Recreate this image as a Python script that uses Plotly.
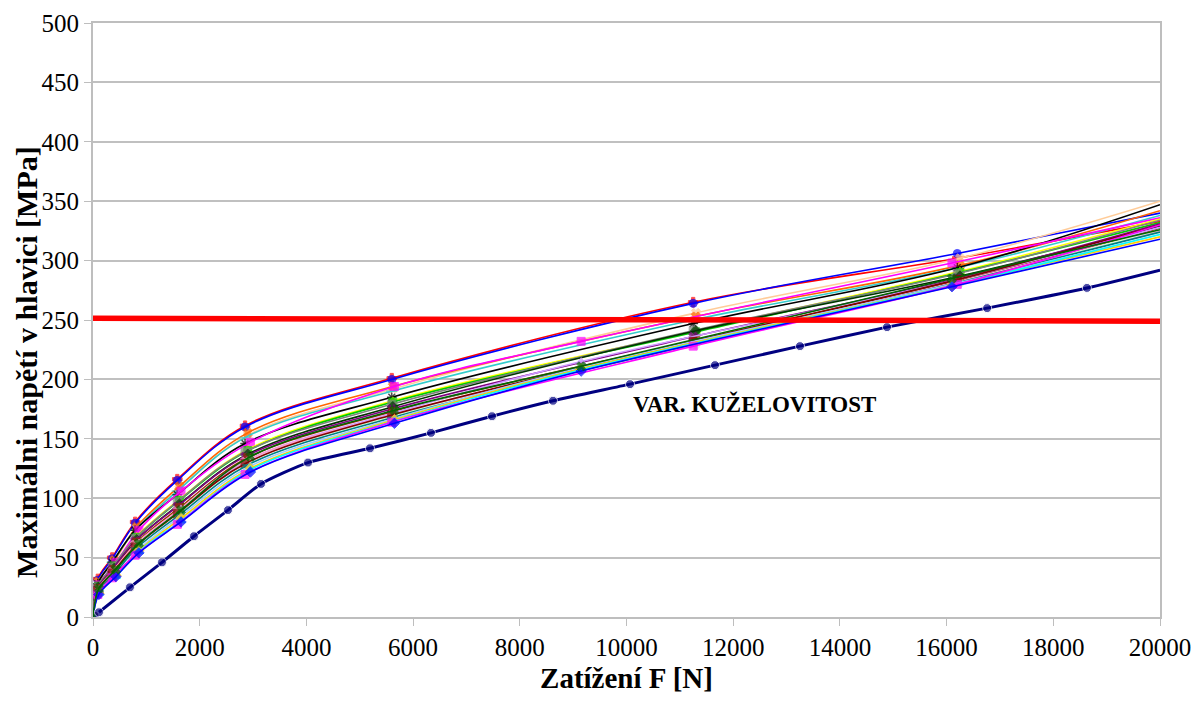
import plotly.graph_objects as go

# ---------------- data ----------------
X_TICKS = [0, 2000, 4000, 6000, 8000, 10000, 12000, 14000, 16000, 18000, 20000]
Y_TICKS = [0, 50, 100, 150, 200, 250, 300, 350, 400, 450, 500]

# load steps (N) used by the different variants
LOADS_A = [0, 90, 360, 790, 1580, 2850, 5600, 11250, 16200, 20000]
LOADS_B = [0, 110, 430, 860, 1650, 2950, 5650, 9150, 16100, 20000]
LOADS_C = [0, 100, 400, 820, 1620, 2900, 5620, 11300, 16250, 20000]

# max stress in the head (MPa) for each variant
S01 = [0, 32, 50, 80, 116, 161, 201, 265, 302, 333]
S02 = [0, 31, 49, 79, 115, 160, 200, 264, 306, 340]
S03 = [0, 29, 47, 75, 108, 153, 192, 256, 302, 350]
S04 = [0, 30, 48, 76, 110, 155, 194, 253, 296, 342]
S05 = [0, 28, 46, 73, 106, 151, 190, 250, 294, 338]
S06 = [0, 28, 46, 73, 103, 146, 185, 247, 294, 347]
S07 = [0, 27, 46, 73, 106, 147, 194, 232, 298, 336]
S08 = [0, 26, 43, 68, 99, 141, 182, 241, 291, 335]
S09 = [0, 26, 43, 67, 98, 140, 181, 240, 290, 332]
S10 = [0, 25, 42, 66, 97, 139, 179, 241, 289, 334]
S11 = [0, 25, 41, 65, 95, 137, 177, 241, 287, 329]
S12 = [0, 24, 40, 64, 93, 135, 175, 236, 285, 331]
S13 = [0, 24, 40, 63, 92, 134, 173, 233, 284, 327]
S14 = [0, 23, 39, 62, 91, 133, 172, 215, 283, 328]
S15 = [0, 23, 38, 61, 89, 131, 170, 230, 282, 325]
S16 = [0, 22, 37, 60, 88, 130, 169, 229, 281, 326]
S17 = [0, 22, 37, 59, 87, 129, 170, 232, 284, 330]
S18 = [0, 21, 36, 58, 86, 128, 168, 230, 282, 324]
S19 = [0, 21, 35, 57, 85, 127, 167, 210, 280, 322]
S20 = [0, 20, 35, 56, 83, 125, 166, 209, 279, 320]
S21 = [0, 20, 34, 55, 81, 124, 165, 208, 279, 322]
S22 = [0, 19, 33, 52, 78, 120, 164, 228, 280, 330]
S23 = [0, 19, 34, 54, 80, 122, 163, 207, 278, 318]
S24 = [0, 24, 40, 62, 90, 135, 174, 211, 285, 326]

SERIES = [
    (LOADS_A, S01), (LOADS_A, S02), (LOADS_C, S03), (LOADS_C, S04),
    (LOADS_A, S05), (LOADS_A, S06), (LOADS_B, S07), (LOADS_C, S08),
    (LOADS_C, S09), (LOADS_A, S10), (LOADS_C, S11), (LOADS_A, S12),
    (LOADS_C, S13), (LOADS_B, S14), (LOADS_A, S15), (LOADS_C, S16),
    (LOADS_A, S17), (LOADS_C, S18), (LOADS_B, S19), (LOADS_B, S20),
    (LOADS_B, S21), (LOADS_A, S22), (LOADS_B, S23), (LOADS_B, S24),
]

# variant "KUŽELOVITOST"
KUZ_F = [112, 693, 1293, 1893, 2530, 3149, 4030, 5192, 6335, 7479, 8622,
         10066, 11659, 13252, 14883, 16760, 18630, 20000]
KUZ_S = [4, 25, 46, 68, 90, 112, 130, 142, 155, 169, 182,
         196, 212, 228, 244, 260, 277, 292]

# allowable stress limit line
LIMIT_F = [0, 20000]
LIMIT_S = [251.5, 249]

ANNOT_TEXT = "VAR. KUŽELOVITOST"
ANNOT_POS = (12400, 179)

X_TITLE = "Zatížení F [N]"
Y_TITLE = "Maximálni napětí v hlavici [MPa]"

# ---------------- styles ----------------
COLORS = ["#FF0000", "#0000FF", "#FFCC99", "#FF6600", "#33CCCC", "#000000",
          "#FF00FF", "#FFFF00", "#00CC00", "#808080", "#003300", "#800080",
          "#993300", "#CC99FF", "#FF99CC", "#CCFFCC", "#800000", "#008080",
          "#99CCFF", "#FFCC00", "#00FFFF", "#FF00FF", "#0000FF", "#006600"]
SYMBOLS = ["cross", "circle", "x", "x", "line-ew-open", "asterisk-open",
           "square", "triangle-up", "square", "square", "diamond", "x",
           "square", "triangle-up", "x", "circle", "square", "line-ew-open",
           "triangle-up", "diamond", "triangle-up", "square", "diamond", "x"]

FONT = "Liberation Serif"

fig = go.Figure()

for (xs, ys), col, sym in zip(SERIES, COLORS, SYMBOLS):
    sizes = [8] * (len(xs) - 1) + [0]
    lw = 1.5 if sym.endswith("open") else 1
    fig.add_trace(go.Scatter(
        x=xs, y=ys, mode="lines+markers",
        line=dict(color=col, width=1.6, shape="spline", smoothing=1.0),
        marker=dict(symbol=sym, size=sizes, color=col,
                    line=dict(color=col, width=lw)),
        showlegend=False, hoverinfo="x+y"))

fig.add_trace(go.Scatter(
    x=KUZ_F, y=KUZ_S, mode="lines+markers",
    line=dict(color="#000080", width=3, shape="spline", smoothing=0.6),
    marker=dict(symbol="circle", size=[9] * (len(KUZ_F) - 1) + [0], color="#000080"),
    showlegend=False))

fig.add_trace(go.Scatter(
    x=LIMIT_F, y=LIMIT_S, mode="lines",
    line=dict(color="#FF0000", width=5.5),
    showlegend=False))

fig.add_annotation(x=ANNOT_POS[0], y=ANNOT_POS[1], text="<b>" + ANNOT_TEXT + "</b>",
                   showarrow=False, font=dict(family=FONT, size=23, color="black"))

# y-axis title placed as rotated annotation (sits slightly below plot centre in the original)
fig.add_annotation(xref="paper", yref="paper", x=-0.0625, y=0.43,
                   text="<b>" + Y_TITLE + "</b>", textangle=-90, showarrow=False,
                   xanchor="center", yanchor="middle",
                   font=dict(family=FONT, size=30, color="black"))

fig.update_layout(
    width=1199, height=703,
    margin=dict(l=85, r=47, t=15, b=94),
    paper_bgcolor="white", plot_bgcolor="white",
    font=dict(family=FONT, size=25, color="black"),
)

fig.update_xaxes(
    range=[0, 20000], tickvals=X_TICKS, ticktext=[str(v) for v in X_TICKS],
    showgrid=False, showline=True, linecolor="#BEBEBE", linewidth=2,
    mirror=True, ticks="outside", ticklen=7, tickcolor="#BEBEBE", tickwidth=1,
    zeroline=False, tickfont=dict(family=FONT, size=25),
    title=dict(text="<b>" + X_TITLE + "</b>", font=dict(family=FONT, size=29), standoff=8),
    automargin=False,
)
fig.update_yaxes(
    range=[0, 500], tickvals=Y_TICKS, ticktext=[str(v) for v in Y_TICKS],
    showgrid=True, gridcolor="#C0C0C0", gridwidth=2,
    showline=True, linecolor="#BEBEBE", linewidth=2, mirror=True,
    ticks="outside", ticklen=7, tickcolor="#BEBEBE", tickwidth=1,
    zeroline=False, tickfont=dict(family=FONT, size=25),
    ticklabeloverflow="allow",
    automargin=False,
)

fig.write_html("out.html")
